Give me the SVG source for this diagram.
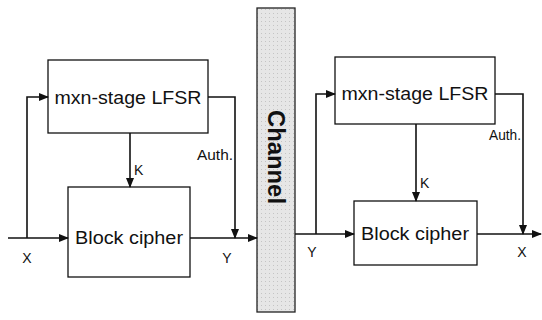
<svg xmlns="http://www.w3.org/2000/svg" width="542" height="320" viewBox="0 0 542 320">
<style>
.box{fill:#fff;stroke:#111;stroke-width:1.3}
.ln{fill:none;stroke:#111;stroke-width:1.6}
.t{font-family:"Liberation Sans",Arial,sans-serif;fill:#111}
.big{font-size:17.5px}
.sm{font-size:14px}
</style>
<defs>
<marker id="a" markerWidth="10" markerHeight="8" refX="9" refY="4" orient="auto" markerUnits="userSpaceOnUse">
<path d="M0,0 L10,4 L0,8 Z" fill="#111"/>
</marker>
<pattern id="dots" width="4" height="4" patternUnits="userSpaceOnUse">
<rect width="4" height="4" fill="#e6e6e6"/>
<rect x="1" y="1" width="1" height="1" fill="#c4c4c4"/>
</pattern>
</defs>
<g id="channel">
<rect x="257" y="8" width="38" height="304" fill="url(#dots)" stroke="#222" stroke-width="1.3"/>
<text class="t" font-size="23" font-weight="bold" text-anchor="middle" textLength="94" lengthAdjust="spacingAndGlyphs" transform="translate(268,157) rotate(90)">Channel</text>
</g>
<g id="lfsr1">
<rect class="box" x="48" y="60" width="160" height="73"/>
<text class="t big" x="128" y="104" text-anchor="middle" textLength="147" lengthAdjust="spacingAndGlyphs">mxn-stage LFSR</text>
</g>
<g id="cipher1">
<rect class="box" x="68" y="187" width="122" height="90"/>
<text class="t big" x="129" y="244" text-anchor="middle" textLength="108" lengthAdjust="spacingAndGlyphs">Block cipher</text>
</g>
<g id="lfsr2">
<rect class="box" x="335" y="57" width="160" height="67"/>
<text class="t big" x="415" y="100" text-anchor="middle" textLength="147" lengthAdjust="spacingAndGlyphs">mxn-stage LFSR</text>
</g>
<g id="cipher2">
<rect class="box" x="354" y="201" width="123" height="64"/>
<text class="t big" x="415" y="240" text-anchor="middle" textLength="108" lengthAdjust="spacingAndGlyphs">Block cipher</text>
</g>
<g id="connectors">
<path class="ln" d="M8,238 H68" marker-end="url(#a)"/>
<path class="ln" d="M27,238 V97 H48" marker-end="url(#a)"/>
<path class="ln" d="M130,133 V187" marker-end="url(#a)"/>
<path class="ln" d="M208,97 H235 V238" marker-end="url(#a)"/>
<path class="ln" d="M190,238 H257" marker-end="url(#a)"/>
<path class="ln" d="M295,234 H354" marker-end="url(#a)"/>
<path class="ln" d="M316,234 V94 H335" marker-end="url(#a)"/>
<path class="ln" d="M416,124 V201" marker-end="url(#a)"/>
<path class="ln" d="M495,94 H523 V234" marker-end="url(#a)"/>
<path class="ln" d="M477,234 H541" marker-end="url(#a)"/>
</g>
<g id="labels">
<text class="t sm" x="27" y="263" text-anchor="middle">X</text>
<text class="t sm" x="227" y="263" text-anchor="middle">Y</text>
<text class="t sm" x="134" y="175">K</text>
<text class="t sm" x="233" y="160" text-anchor="end" textLength="36" lengthAdjust="spacingAndGlyphs">Auth.</text>
<text class="t sm" x="312" y="257" text-anchor="middle">Y</text>
<text class="t sm" x="522" y="257" text-anchor="middle">X</text>
<text class="t sm" x="420" y="188">K</text>
<text class="t sm" x="521" y="140" text-anchor="end" textLength="32" lengthAdjust="spacingAndGlyphs">Auth.</text>
</g>
</svg>
